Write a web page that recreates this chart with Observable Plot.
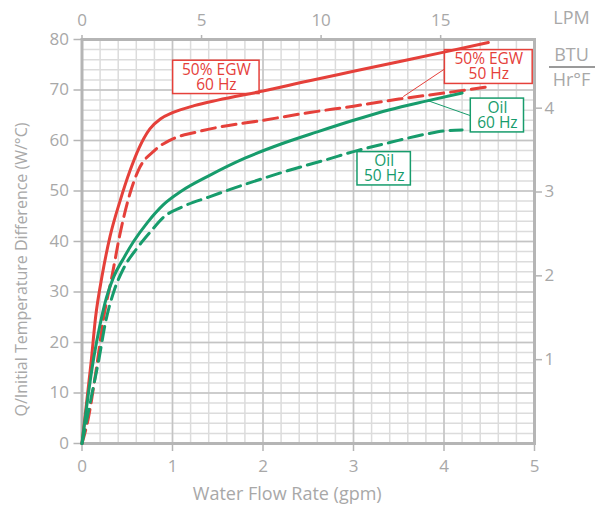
<!DOCTYPE html>
<html>
<head>
<meta charset="utf-8">
<script src="https://cdn.jsdelivr.net/npm/d3@7"></script>
<script src="https://cdn.jsdelivr.net/npm/@observablehq/plot@0.6"></script>
<style>
  html, body { margin: 0; padding: 0; background: #fff; }
  #chart svg { display: block; }
</style>
</head>
<body>
<div id="chart"></div>
<script>
// ---- Data ----
const egw60Gpm = [0, 0.05, 0.1, 0.15, 0.22, 0.31, 0.42, 0.53, 0.63, 0.75, 0.87, 1.0, 1.24, 1.5, 2.0, 2.5, 3.0, 3.5, 4.0, 4.49];
const egw60W   = [0, 8, 16, 25, 33, 41, 48, 54, 58.5, 62.3, 64.3, 65.5, 66.9, 68, 69.8, 71.8, 73.7, 75.6, 77.5, 79.4];

const egw50Gpm = [0, 0.07, 0.16, 0.24, 0.33, 0.42, 0.53, 0.62, 0.8, 1.0, 1.25, 1.5, 2.0, 2.5, 3.0, 3.5, 4.0, 4.47];
const egw50W   = [0, 5, 15, 25, 33, 41.5, 49.5, 54, 58, 60.3, 61.6, 62.6, 64, 65.5, 66.8, 68.2, 69.4, 70.6];

const oil60Gpm = [0, 0.06, 0.13, 0.2, 0.27, 0.35, 0.46, 0.57, 0.72, 0.9, 1.1, 1.4, 1.8, 2.2, 2.6, 3.0, 3.4, 3.8, 4.2];
const oil60W   = [0, 8.5, 17, 23.6, 28.9, 33, 36.7, 40, 43.7, 47.3, 50, 53, 56.5, 59.3, 61.7, 64, 66.1, 67.8, 69.4];

const oil50Gpm = [0, 0.095, 0.19, 0.26, 0.35, 0.46, 0.61, 0.76, 0.9, 1.1, 1.4, 1.8, 2.27, 2.7, 3.04, 3.4, 3.81, 4.0, 4.2];
const oil50W   = [0, 8.5, 17, 24, 30, 34.7, 38.7, 42, 44.8, 46.8, 48.8, 51.3, 54, 56.2, 58, 59.6, 61.3, 61.9, 62.1];

const seriesNames = ["50% EGW 60 Hz", "50% EGW 50 Hz", "Oil 60 Hz", "Oil 50 Hz"];

// Tick labels
const gpmTicks = [0, 1, 2, 3, 4, 5];
const wTicks = [0, 10, 20, 30, 40, 50, 60, 70, 80];
const lpmTicks = [0, 5, 10, 15];
const btuTicks = [1, 2, 3, 4];
const LPM_PER_GPM = 3.785;
const W_PER_BTU_UNIT = 16.6;

// Axis titles
const xTitle = "Water Flow Rate (gpm)";
const yTitle = "Q/Initial Temperature Difference (W/°C)";

// ---- Styles ----
const RED = "#e5403a";
const GREEN = "#179c6c";
const TXT = "#a8a8a8";
const AXIS = "#b5b5b5";

const series = [
  {name: seriesNames[0], gpm: egw60Gpm, w: egw60W, color: RED, dash: null},
  {name: seriesNames[1], gpm: egw50Gpm, w: egw50W, color: RED, dash: "14,7"},
  {name: seriesNames[2], gpm: oil60Gpm, w: oil60W, color: GREEN, dash: null},
  {name: seriesNames[3], gpm: oil50Gpm, w: oil50W, color: GREEN, dash: "14,7"}
];

// Annotation layout (in data units)
const notes = [
  {text: "50% EGW\n60 Hz", color: RED,   x1: 1.007, x2: 1.962, y1: 69.2, y2: 75.8},
  {text: "50% EGW\n50 Hz", color: RED,   x1: 4.01,  x2: 4.98,  y1: 71.2, y2: 77.9},
  {text: "Oil\n60 Hz",     color: GREEN, x1: 4.296, x2: 4.884, y1: 61.6, y2: 68.3},
  {text: "Oil\n50 Hz",     color: GREEN, x1: 3.044, x2: 3.634, y1: 51.1, y2: 57.7}
];
const leaders = [
  {color: RED,   x1: 4.01,  y1: 74.2, x2: 3.55, y2: 68.7},
  {color: GREEN, x1: 4.296, y1: 64.9, x2: 3.82, y2: 67.9}
];

const minorX = d3.range(0, 5.0001, 0.2).map(v => +v.toFixed(2));
const minorY = d3.range(0, 80.001, 2);

const lineMarks = series.map(s => {
  const rows = s.gpm.map((g, i) => ({gpm: g, w: s.w[i]}));
  const opts = {x: "gpm", y: "w", stroke: s.color, strokeWidth: 3, curve: "monotone-x"};
  if (s.dash) opts.strokeDasharray = s.dash;
  return Plot.line(rows, opts);
});

const chart = Plot.plot({
  width: 600,
  height: 508,
  marginLeft: 81.5,
  marginRight: 66,
  marginTop: 39,
  marginBottom: 65,
  style: {fontFamily: "'Open Sans', sans-serif", fontSize: "17px", background: "#fff"},
  x: {domain: [0, 5]},
  y: {domain: [0, 80]},
  marks: [
    Plot.ruleX(minorX, {stroke: "#dcdcdc", strokeWidth: 1.5}),
    Plot.ruleY(minorY, {stroke: "#dcdcdc", strokeWidth: 1.5}),
    Plot.ruleX(gpmTicks, {stroke: "#c4c4c4", strokeWidth: 1.5}),
    Plot.ruleY(wTicks, {stroke: "#c4c4c4", strokeWidth: 1.5}),
    Plot.frame({stroke: AXIS, strokeWidth: 3}),
    Plot.axisX(gpmTicks, {anchor: "bottom", tickSize: 8, tickPadding: 8, label: null, color: TXT, stroke: AXIS, strokeWidth: 1.5, fontSize: 17}),
    Plot.axisX(lpmTicks.map(l => l / LPM_PER_GPM), {anchor: "top", tickSize: 5, tickPadding: 9, label: null, color: TXT, stroke: AXIS, strokeWidth: 1.5, fontSize: 17, tickFormat: v => String(Math.round(v * LPM_PER_GPM))}),
    Plot.axisY(wTicks, {anchor: "left", tickSize: 8, tickPadding: 5, label: null, color: TXT, stroke: AXIS, strokeWidth: 1.5, fontSize: 17}),
    Plot.axisY(btuTicks.map(b => b * W_PER_BTU_UNIT), {anchor: "right", tickSize: 7, tickPadding: 3, label: null, color: TXT, stroke: AXIS, strokeWidth: 1.5, fontSize: 17, tickFormat: v => String(Math.round(v / W_PER_BTU_UNIT))}),
    Plot.rect(notes, {x1: "x1", x2: "x2", y1: "y1", y2: "y2", fill: "white", stroke: "color", strokeWidth: 1.5}),
    ...lineMarks,
    Plot.link(leaders, {x1: "x1", y1: "y1", x2: "x2", y2: "y2", stroke: "color", strokeWidth: 1}),
    Plot.text(notes, {x: d => (d.x1 + d.x2) / 2, y: d => (d.y1 + d.y2) / 2, text: "text", fill: "color", fontSize: 15.5, lineHeight: 0.98}),
    Plot.text([xTitle], {frameAnchor: "bottom", textAnchor: "middle", lineAnchor: "middle", dx: -21, dy: 51, fill: TXT, fontSize: 18}),
    Plot.text([yTitle], {frameAnchor: "left", textAnchor: "middle", lineAnchor: "middle", rotate: -90, dx: -60.5, dy: 28, fill: TXT, fontSize: 16}),
    Plot.text(["LPM"], {frameAnchor: "top-right", textAnchor: "middle", lineAnchor: "middle", dx: 37, dy: -21, fill: TXT, fontSize: 18}),
    Plot.text(["BTU"], {frameAnchor: "top-right", textAnchor: "middle", lineAnchor: "middle", dx: 37, dy: 16, fill: TXT, fontSize: 18}),
    Plot.text(["Hr°F"], {frameAnchor: "top-right", textAnchor: "middle", lineAnchor: "middle", dx: 37, dy: 41, fill: TXT, fontSize: 18})
  ]
});

d3.select(chart).append("line")
  .attr("x1", 549).attr("x2", 595).attr("y1", 67).attr("y2", 67)
  .attr("stroke", "#9a9a9a").attr("stroke-width", 2);

document.getElementById("chart").appendChild(chart);
</script>
</body>
</html>
